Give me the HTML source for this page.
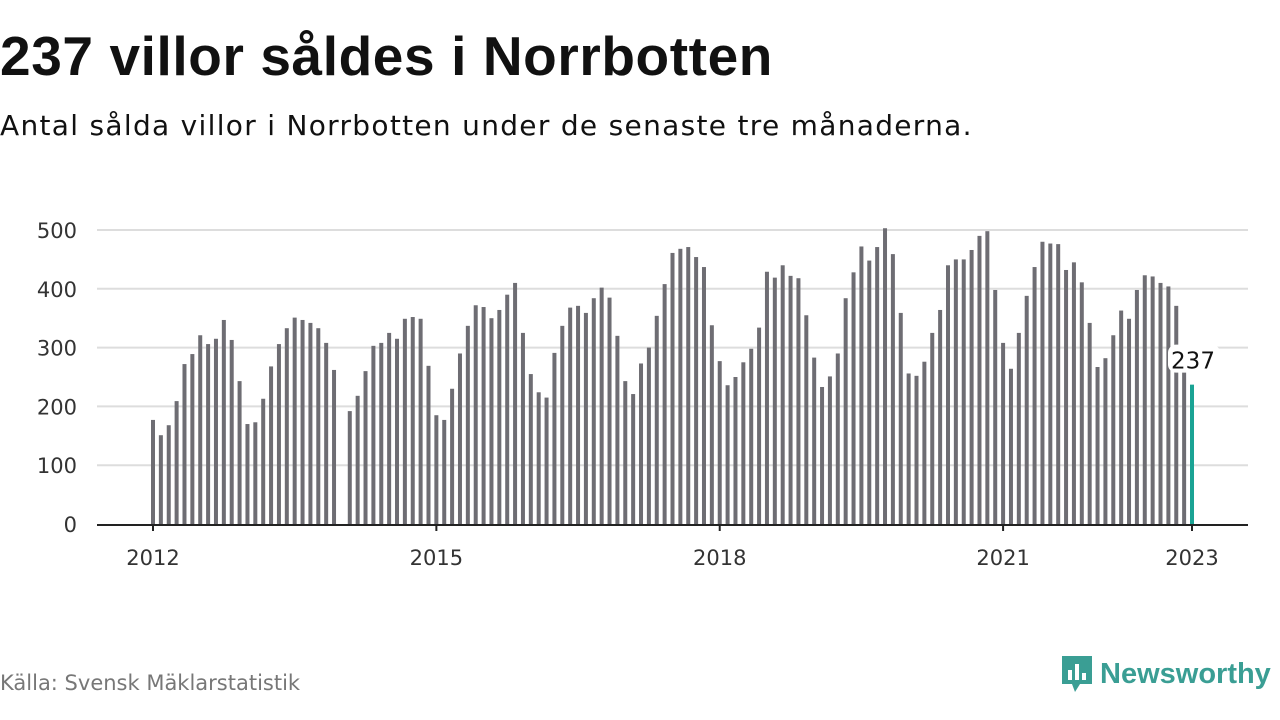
<!DOCTYPE html>
<html><head><meta charset="utf-8"><style>
body{margin:0;background:#fff;font-family:"DejaVu Sans","Liberation Sans",sans-serif;}
#wrap{position:relative;width:1280px;height:720px;overflow:hidden}
h1{position:absolute;left:0;top:26px;margin:0;font-family:"Liberation Sans",sans-serif;font-size:55px;font-weight:bold;color:#111;letter-spacing:0.6px;line-height:60px}
.sub{position:absolute;left:0;top:108px;font-size:28px;color:#111;letter-spacing:1.3px;line-height:36px}
.src{position:absolute;left:0;top:670px;font-size:21px;color:#777;line-height:26px}
.logo{position:absolute;left:1060px;top:654px;display:flex;align-items:center;color:#3a9e94;font-family:"Liberation Sans",sans-serif;font-size:29px;font-weight:bold}
</style></head><body><div id="wrap">
<h1>237 villor såldes i Norrbotten</h1>
<div class="sub">Antal sålda villor i Norrbotten under de senaste tre månaderna.</div>
<svg id="chart" width="1280" height="720" style="position:absolute;left:0;top:0"></svg>
<div class="src">Källa: Svensk Mäklarstatistik</div>
<div class="logo"><svg width="34" height="40" viewBox="0 0 34 40"><path d="M2 2h30v28H20l-5 8-3-8H2z" fill="#3a9e94"/><rect x="8" y="16" width="4" height="10" fill="#fff"/><rect x="15" y="10" width="4" height="16" fill="#fff"/><rect x="22" y="19" width="4" height="7" fill="#fff"/></svg><span style="margin-left:6px">Newsworthy</span></div>
</div>
<script>
const years=[2012,2015,2018,2021,2023];
const yTicks=[0,100,200,300,400,500];
const startYear=2012;
const values=[
177,151,168,209,272,289,321,306,315,347,313,243,
170,173,213,268,306,333,351,347,342,333,308,262,
null,192,218,260,303,308,325,315,349,352,349,269,
185,177,230,290,337,372,369,350,364,390,410,325,
255,224,215,291,337,368,371,359,384,402,385,320,
243,221,273,300,354,408,461,468,471,454,437,338,
277,236,250,275,298,334,429,419,440,422,418,355,
283,233,251,290,384,428,472,448,471,503,459,359,
256,252,276,325,364,440,450,450,466,490,498,398,
308,264,325,388,437,480,477,476,432,445,411,342,
267,282,321,363,349,398,423,421,410,404,371,265,
237];
const NS="http://www.w3.org/2000/svg";
const svg=document.getElementById('chart');
const x0=153,perMonth=(1192-153)/132,y0=524,perUnit=294/500;
const xs=m=>x0+m*perMonth, ys=v=>y0-v*perUnit;
const FF='DejaVu Sans, Liberation Sans, sans-serif';
function mk(t,a){const e=document.createElementNS(NS,t);for(const k in a)e.setAttribute(k,a[k]);svg.appendChild(e);return e;}
yTicks.forEach(v=>{
 if(v>0){const g=mk('line',{x1:97,x2:1248,y1:ys(v),y2:ys(v),stroke:'#ddd','stroke-width':2});
 
 }
 const t=mk('text',{x:77,y:ys(v)+8,'text-anchor':'end','font-size':21,fill:'#333','font-family':FF});
 t.textContent=v;
 
 
});
values.forEach((v,i)=>{
 if(v==null)return;
 const last=i===values.length-1;
 const r=mk('rect',{x:xs(i)-2,y:ys(v),width:4,height:v*perUnit,fill:last?'#1aa394':'#6e6d73'});
 
 
});
const ax=mk('line',{x1:97,x2:1248,y1:y0+1,y2:y0+1,stroke:'#222','stroke-width':2});


years.forEach(y=>{
 const x=xs((y-startYear)*12);
 const tk=mk('line',{x1:x,x2:x,y1:y0,y2:y0+7,stroke:'#222','stroke-width':2});
 
 
 const t=mk('text',{x:x,y:565,'text-anchor':'middle','font-size':21,fill:'#333','font-family':FF});
 t.textContent=y;
 
 
});
const li=values.length-1,lv=values[li];
const bg=mk('rect',{x:xs(li)-24,y:ys(lv)-40,width:52,height:28,rx:8,fill:'#fff'});


const lab=mk('text',{x:xs(li)+1,y:ys(lv)-16,'text-anchor':'middle','font-size':23,fill:'#111','font-family':FF});
lab.textContent=lv;


</script></body></html>
